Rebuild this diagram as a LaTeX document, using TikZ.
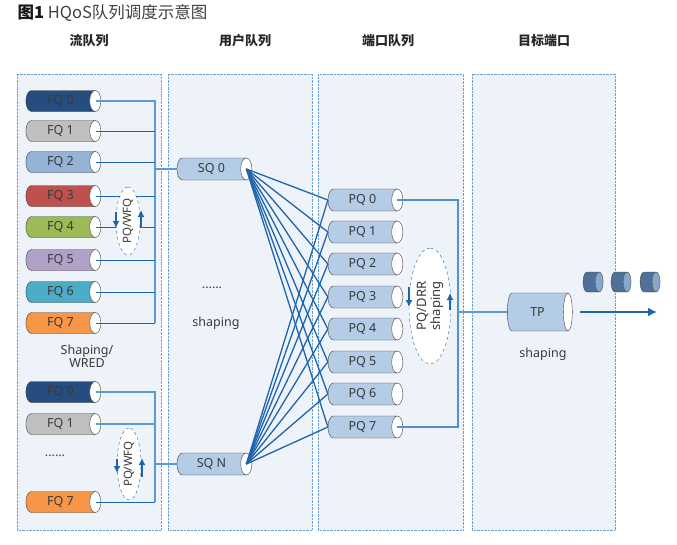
\documentclass[tikz,border=0pt]{standalone}
\usepackage{fontspec}
\setmainfont{Noto Sans}
\newfontfamily\cjk{Noto Sans CJK SC}
\usetikzlibrary{shapes.geometric, arrows.meta}
\definecolor{panelbg}{HTML}{EEF3FA}
\definecolor{paneledge}{HTML}{6A9FD2}
\definecolor{lnlight}{HTML}{5B9BD5}
\definecolor{lndark}{HTML}{1F64AD}
\definecolor{qfill}{HTML}{B4CCE6}
\definecolor{txt}{HTML}{3A3A3A}
\definecolor{fqA}{HTML}{264D80}
\definecolor{fqB}{HTML}{BFBFBF}
\definecolor{fqC}{HTML}{95B3D7}
\definecolor{fqD}{HTML}{C0504D}
\definecolor{fqE}{HTML}{9BBB59}
\definecolor{fqF}{HTML}{B1A0C7}
\definecolor{fqG}{HTML}{4BACC6}
\definecolor{fqH}{HTML}{F79646}
\definecolor{pktbody}{HTML}{4E7099}
\definecolor{pktend}{HTML}{86A8CC}

\begin{document}
\begin{tikzpicture}[x=1pt, y=-1pt,
    panel/.style={draw=paneledge, densely dotted, fill=panelbg},
    head/.style={font=\cjk\bfseries\fontsize{13}{15}\selectfont, text=black!85},
    lbl/.style={font=\fontsize{12.5}{15}\selectfont, text=txt, align=center},
    queue/.style={cylinder, draw=black!75, cylinder uses custom fill,
        cylinder body fill=#1, cylinder end fill=white, shape aspect=1,
        minimum height=75pt, minimum width=21pt, inner sep=0pt, outer sep=0pt,
        font=\fontsize{12.5}{14}\selectfont, text=txt},
    pkt/.style={cylinder, draw=black!70, cylinder uses custom fill,
        cylinder body fill=pktbody, cylinder end fill=pktend, shape aspect=1.1,
        minimum height=20pt, minimum width=20pt, inner sep=0pt, outer sep=0pt},
    sched/.style={ellipse, draw=lndark, dashed, fill=white, rotate=90,
        inner sep=0pt, text=txt, align=center},
    lightline/.style={draw=lnlight, line width=1.1pt},
    darkline/.style={draw=lndark, line width=0.9pt},
    xline/.style={draw=lndark, line width=1.3pt},
    schedarrow/.style={draw=lndark, line width=1.8pt, -{Latex[length=7pt,width=7pt]}}]

\useasboundingbox (0,0) rectangle (677,544);

% title and column heads
\node[anchor=west, font=\cjk\fontsize{16.5}{18}\selectfont, text=black!75] (title) at (14,13)
    {\textbf{\color{black!90}图1} HQoS队列调度示意图};
\node[head] (h1) at (89,41) {流队列};
\node[head] (h2) at (245,41) {用户队列};
\node[head] (h3) at (388,41) {端口队列};
\node[head] (h4) at (544,41) {目标端口};

\draw[panel] (17,74) rectangle (161,530);
\draw[panel] (168,74) rectangle (312,530);
\draw[panel] (318,74) rectangle (463,530);
\draw[panel] (472,74) rectangle (615,530);

% flow queues
\foreach \i/\y/\c in {0/101/fqA, 1/131/fqB, 2/162/fqC, 3/196/fqD,
                      4/227/fqE, 5/260/fqF, 6/292/fqG, 7/323/fqH} {
    \node[queue=\c] (fq\i) at (60.5,\y) {FQ \i};
    \coordinate (fqc\i) at ([xshift=-5.2pt]fq\i.east);
}
\foreach \i/\y/\c in {0/392/fqA, 1/424/fqB, 7/502/fqH} {
    \node[queue=\c] (gq\i) at (60.5,\y) {FQ \i};
    \coordinate (gqc\i) at ([xshift=-5.2pt]gq\i.east);
}
\node[lbl] (wred) at (87,356) {Shaping/\\[-2pt]WRED};
\node[lbl] (dots1) at (55,456) {......};

% user queues
\node[queue=qfill, minimum width=22pt] (sq0) at (211.5,169) {SQ 0};
\node[queue=qfill, minimum width=22pt] (sqN) at (211.5,464) {SQ N};
\coordinate (sqc0) at ([xshift=-5.5pt]sq0.east);
\coordinate (sqcN) at ([xshift=-5.5pt]sqN.east);
\node[lbl] (dots2) at (212,288) {......};
\node[lbl] (shp2) at (216,323) {shaping};

% port queues
\foreach \i/\y in {0/200, 1/232, 2/264, 3/297, 4/329, 5/362, 6/394, 7/427} {
    \node[queue=qfill, minimum width=22pt] (pq\i) at (362.5,\y) {PQ \i};
    \coordinate (pqc\i) at ([xshift=-5.5pt]pq\i.east);
}

% target port
\node[queue=qfill, minimum height=65pt, minimum width=38pt] (tp) at (537.5,312) {TP};
\node[lbl] (shp4) at (543,354) {shaping};
\foreach \i/\x in {1/591, 2/619, 3/648}
    \node[pkt] (pk\i) at (\x,282) {\vphantom{X}};

% connections
\coordinate (bus1) at (155,169);
\coordinate (bus2) at (155,464);
\coordinate (bus3) at (458,312);
\draw[lightline] (fqc0) -| (bus1 |- fqc7);
\foreach \i in {1,...,7} \draw[darkline] (fqc\i) -- (fqc\i -| bus1);
\draw[lightline] (bus1) -- (sq0.west);
\draw[lightline] (gqc0) -| (bus2 |- gqc7);
\draw[lightline] (gqc1) -- (gqc1 -| bus2);
\draw[darkline] (gqc7) -- (gqc7 -| bus2);
\draw[lightline] (bus2) -- (sqN.west);
\foreach \i in {0,...,7} {
    \draw[xline] (sqc0) -- (pq\i.west);
    \draw[xline] (sqcN) -- (pq\i.west);
}
\draw[xline, draw=lnlight!80!lndark] (pqc0) -| (bus3 |- pqc7) -- (pqc7);
\draw[lightline] (bus3) -- (tp.west);
\coordinate (out1) at (580,312);
\coordinate (out2) at (657,312);
\draw[draw=lndark, line width=2pt, -{Latex[length=9pt,width=9pt]}] (out1) -- (out2);

% schedulers
\node[sched, minimum width=68pt, minimum height=24pt, font=\fontsize{11.5}{13}\selectfont] (wfq1) at (128,221) {PQ/WFQ};
\draw[schedarrow] ([shift={(-12,-9)}]wfq1.center) -- ++(0,16);
\draw[schedarrow] ([shift={(13,7)}]wfq1.center) -- ++(0,-18);
\node[sched, minimum width=72pt, minimum height=24pt, font=\fontsize{11.5}{13}\selectfont] (wfq2) at (129,464) {PQ/WFQ};
\draw[schedarrow] ([shift={(-12,-5)}]wfq2.center) -- ++(0,14);
\draw[schedarrow] ([shift={(13,13)}]wfq2.center) -- ++(0,-19);
\node[sched, minimum width=116pt, minimum height=42pt, font=\fontsize{13}{14}\selectfont] (drr) at (430,306) {PQ/DRR\\shaping};
\draw[schedarrow] ([shift={(-21,-19)}]drr.center) -- ++(0,20);
\draw[schedarrow] ([shift={(20,4)}]drr.center) -- ++(0,-17);
\end{tikzpicture}
\end{document}
